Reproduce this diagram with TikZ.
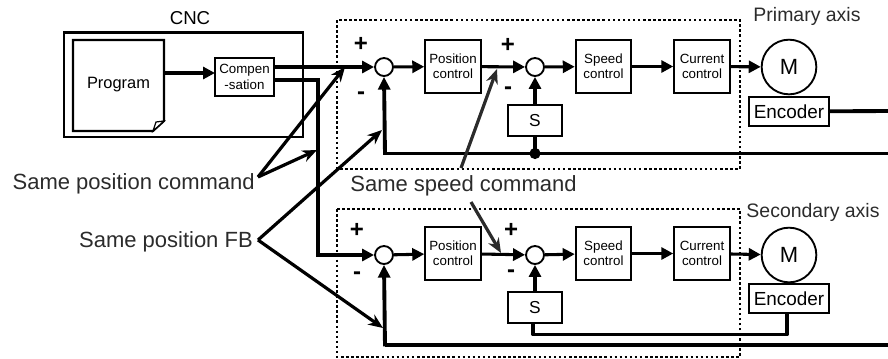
\documentclass[tikz,border=0pt]{standalone}
\usepackage{fontspec}
\setmainfont{Liberation Sans}
\usetikzlibrary{positioning, calc, arrows.meta}
\definecolor{inkgray}{HTML}{2B2B2B}
\tikzset{
    block/.style={draw, line width=1.6pt, inner sep=0pt, align=center, font=\fontsize{10}{11.5}\selectfont},
    ctrlbox/.style={block, minimum width=41.5pt, minimum height=40pt},
    sbox/.style={block, minimum width=40.5pt, minimum height=23pt, font=\fontsize{13}{15}\selectfont},
    encbox/.style={block, minimum width=60pt, minimum height=22pt, font=\fontsize{14.2}{16}\selectfont},
    sumnode/.style={draw, circle, line width=1.4pt, inner sep=0pt, minimum size=13.5pt},
    motor/.style={draw, circle, line width=1.4pt, inner sep=0pt, minimum size=41pt, font=\fontsize{16.5}{18}\selectfont},
    flow/.style={line width=2.3pt, -{Triangle[length=9pt, width=9pt]}},
    feed/.style={line width=2.9pt},
    feedarrow/.style={line width=2.9pt, -{Triangle[length=9.5pt, width=9pt]}},
    pointer/.style={line width=2.4pt, -{Stealth[length=11pt, width=9pt]}},
    graypointer/.style={pointer, inkgray},
    dotbox/.style={line width=1.9pt, dash pattern=on 1.9pt off 1.9pt},
    note/.style={inkgray, font=\fontsize{16.5}{18}\selectfont, inner sep=0pt},
    axisname/.style={inkgray, font=\fontsize{14.6}{16}\selectfont, inner sep=0pt},
    sign/.style={font=\fontsize{18}{20}\selectfont\bfseries, inner sep=0pt},
}
\begin{document}
\begin{tikzpicture}[x=0.75pt, y=-0.75pt]
    \useasboundingbox (0,0) rectangle (888,358);

    % CNC frame and program sheet
    \draw[line width=1.6pt] (64,32.5) rectangle (303,137);
    \node[inner sep=0pt, font=\fontsize{14}{16}\selectfont] (cnc) at (190,18) {CNC};
    \node[minimum width=68pt, minimum height=68pt, inner sep=0pt, font=\fontsize{12.3}{14}\selectfont] (program) at (118.5,85) {Program};
    \draw[line width=1.6pt] (73,40) -- (164,40) -- (164,121) -- (153,131) -- (73,131) -- cycle;
    \draw[line width=0.9pt, fill=white] (153,131) -- (156,122) -- (164,121) -- cycle;
    \node[block, minimum width=44pt, minimum height=28pt] (comp) at (244.5,77) {Compen\\-sation};

    % primary axis
    \node[sumnode] (sumA) at (384,67) {};
    \node[ctrlbox] (posA) at (453,66.5) {Position\\control};
    \node[sumnode] (spdsumA) at (535,67) {};
    \node[ctrlbox] (spdA) at (603.5,66.5) {Speed\\control};
    \node[ctrlbox] (curA) at (702,66.5) {Current\\control};
    \node[motor] (motA) at (789,67) {M};
    \node[encbox] (encA) at (789,111.5) {Encoder};
    \node[sbox] (diffA) at (535,120.5) {S};

    % secondary axis
    \node[sumnode] (sumB) at (384,255) {};
    \node[ctrlbox] (posB) at (453,253.5) {Position\\control};
    \node[sumnode] (spdsumB) at (535,255) {};
    \node[ctrlbox] (spdB) at (603.5,253.5) {Speed\\control};
    \node[ctrlbox] (curB) at (702,253.5) {Current\\control};
    \node[motor] (motB) at (789,255) {M};
    \node[encbox] (encB) at (789,298.5) {Encoder};
    \node[sbox] (diffB) at (535,307.5) {S};

    % free ends and corners
    \coordinate (compin) at (215,73);
    \coordinate (compoutA) at (274,67);
    \coordinate (compoutB) at (274,80);
    \coordinate (turn) at (318,80);
    \coordinate (fbcornerA) at (385,153.5);
    \coordinate (fbendA) at (888,153.5);
    \coordinate (encendA) at (888,111);
    \coordinate (fbcornerB) at (385,345);
    \coordinate (fbendB) at (888,345);
    \coordinate (spdlow) at (533,334.5);
    \coordinate (enclow) at (787,334.5);

    % dotted control groups
    \draw[dotbox] (337,20) rectangle (740,169);
    \draw[dotbox] (337,209) rectangle (740,357);

    % forward paths
    \draw[flow] (program.east |- compin) -- (compin);
    \draw[flow, line width=2.9pt] (compoutA) -- (sumA.west);
    \draw[flow, line width=2.9pt] (compoutB) -- (turn) |- (sumB.west);
    \draw[flow] (sumA) -- (posA);
    \draw[flow] (posA) -- (spdsumA);
    \draw[flow] (spdsumA) -- (spdA);
    \draw[flow] (spdA) -- (curA);
    \draw[flow] (curA) -- (motA);
    \draw[flow] (sumB) -- (posB);
    \draw[flow] (posB) -- (spdsumB);
    \draw[flow] (spdsumB) -- (spdB);
    \draw[flow] (spdB) -- (curB);
    \draw[flow] (curB) -- (motB);

    % feedback paths
    \draw[feed] (encA) -- (encendA);
    \draw[feed] (fbcornerA) -- (fbendA);
    \draw[feedarrow] ([yshift=-1.1pt]fbcornerA) -- (sumA.south);
    \fill (diffA |- fbcornerA) circle (4.2pt);
    \draw[line width=2.3pt] (diffA) -- (diffA |- fbcornerA);
    \draw[flow] (diffA) -- (spdsumA);
    \draw[feed] (fbcornerB) -- (fbendB);
    \draw[feedarrow] ([yshift=-1.1pt]fbcornerB) -- (sumB.south);
    \draw[flow] (diffB) -- (spdsumB);
    \draw[feed, line join=round] (encB.south -| enclow) -- (enclow) -- (spdlow) -- (spdlow |- diffB.south);

    % signs
    \node[sign] (plusA) at (361,44) {+};
    \node[sign] (minusA) at (361,96) {-};
    \node[sign] (plusC) at (508,45) {+};
    \node[sign] (minusC) at (508,91) {-};
    \node[sign] (plusB) at (357,230) {+};
    \node[sign] (minusB) at (357,276) {-};
    \node[sign] (plusD) at (511,230) {+};
    \node[sign] (minusD) at (511,274) {-};

    % axis names
    \node[axisname] (primary) at (807,16) {Primary axis};
    \node[axisname] (secondary) at (813,212) {Secondary axis};

    % annotations with leader arrows
    \node[note, anchor=east] (samecmd) at (255,184) {Same position command};
    \node[note, anchor=east] (samefb) at (253,242) {Same position FB};
    \node[note] (samespd) at (463.5,186) {Same speed command};
    \coordinate (cmdapex) at (258,177);
    \coordinate (fbapex) at (258,240);
    \coordinate (cmdtipA) at (345,67);
    \coordinate (cmdtipB) at (317,150);
    \coordinate (fbtipA) at (382,130);
    \coordinate (fbtipB) at (383,328);
    \coordinate (spdtailA) at (461,168);
    \coordinate (spdtipA) at (497,69);
    \coordinate (spdtailB) at (471,202);
    \coordinate (spdtipB) at (501,253);
    \draw[pointer] (cmdapex) -- (cmdtipA);
    \draw[pointer] (cmdapex) -- (cmdtipB);
    \draw[pointer] (fbapex) -- (fbtipA);
    \draw[pointer] (fbapex) -- (fbtipB);
    \draw[graypointer] (spdtailA) -- (spdtipA);
    \draw[graypointer] (spdtailB) -- (spdtipB);
\end{tikzpicture}
\end{document}
